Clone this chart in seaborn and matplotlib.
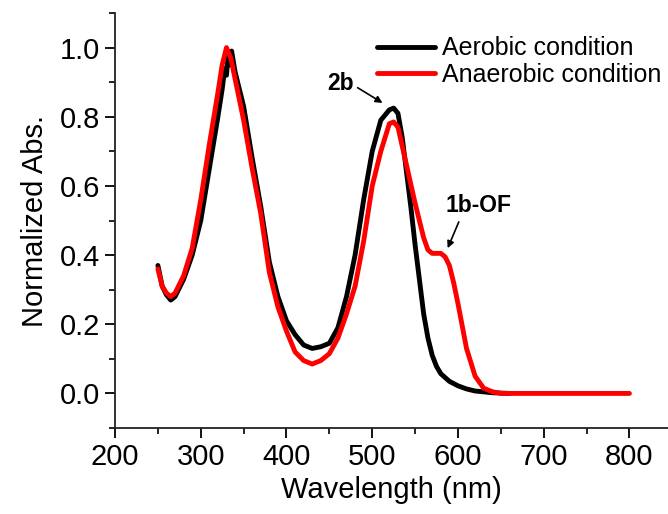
import matplotlib
matplotlib.use("Agg")
import matplotlib.pyplot as plt
import seaborn as sns
import pandas as pd
from matplotlib.ticker import MultipleLocator, FormatStrFormatter

# wavelength (nm) and normalized absorbance
aerobic_wl = [250, 255, 260, 265, 270, 280, 290, 300, 310, 320, 325, 328, 330, 332,
              334, 336, 338, 340, 350, 360, 370, 380, 390, 400, 410, 420, 430, 440,
              450, 460, 470, 480, 490, 500, 510, 520, 525, 530, 535, 540, 545, 550,
              555, 560, 565, 570, 575, 580, 590, 600, 610, 620, 640, 660]
aerobic_abs = [0.37, 0.31, 0.285, 0.27, 0.28, 0.33, 0.40, 0.50, 0.65, 0.80, 0.88, 0.94,
               0.92, 0.98, 0.95, 0.99, 0.96, 0.93, 0.83, 0.68, 0.54, 0.38, 0.28, 0.21,
               0.17, 0.14, 0.13, 0.135, 0.145, 0.19, 0.28, 0.40, 0.56, 0.70, 0.79, 0.82,
               0.825, 0.81, 0.74, 0.64, 0.54, 0.43, 0.33, 0.23, 0.16, 0.11, 0.078, 0.057,
               0.035, 0.022, 0.013, 0.007, 0.002, 0.0]

anaerobic_wl = [250, 255, 260, 265, 270, 280, 290, 300, 310, 320, 325, 330, 335, 340,
                350, 360, 370, 380, 390, 400, 410, 420, 430, 440, 450, 460, 470, 480,
                490, 500, 510, 520, 525, 530, 540, 550, 560, 565, 570, 580, 585, 590,
                595, 600, 610, 620, 630, 640, 650, 700, 750, 800]
anaerobic_abs = [0.36, 0.31, 0.29, 0.28, 0.29, 0.34, 0.42, 0.56, 0.72, 0.87, 0.95, 1.0,
                 0.97, 0.91, 0.79, 0.65, 0.52, 0.35, 0.25, 0.18, 0.12, 0.095, 0.085,
                 0.095, 0.115, 0.16, 0.23, 0.31, 0.44, 0.60, 0.70, 0.78, 0.785, 0.77,
                 0.66, 0.55, 0.45, 0.415, 0.405, 0.405, 0.395, 0.37, 0.32, 0.26, 0.13,
                 0.05, 0.015, 0.005, 0.0, 0.0, 0.0, 0.0]

series_names = ["Aerobic condition", "Anaerobic condition"]
series_colors = ["black", "#ff0000"]

df = pd.concat([
    pd.DataFrame({"wl": aerobic_wl, "abs": aerobic_abs, "cond": series_names[0]}),
    pd.DataFrame({"wl": anaerobic_wl, "abs": anaerobic_abs, "cond": series_names[1]}),
])

sns.set_style("ticks")
plt.rcParams["font.family"] = ["Liberation Sans", "DejaVu Sans"]
for key in ["text.color", "axes.labelcolor", "xtick.color", "ytick.color"]:
    plt.rcParams[key] = "black"

fig = plt.figure(figsize=(6.68, 5.14), dpi=100)
ax = fig.add_axes([0.1722, 0.1673, 0.8278, 0.8074])

sns.lineplot(data=df, x="wl", y="abs", hue="cond", palette=series_colors,
             hue_order=series_names, linewidth=3.5, ax=ax, sort=False,
             solid_joinstyle="round", solid_capstyle="round")

ax.set_xlim(200, 845)
ax.set_ylim(-0.1, 1.1)
ax.xaxis.set_major_locator(MultipleLocator(100))
ax.xaxis.set_minor_locator(MultipleLocator(50))
ax.yaxis.set_major_locator(MultipleLocator(0.2))
ax.yaxis.set_minor_locator(MultipleLocator(0.1))
ax.yaxis.set_major_formatter(FormatStrFormatter("%.1f"))
ax.tick_params(which="major", length=7, width=1.3, labelsize=21, direction="out")
ax.tick_params(which="minor", length=4, width=1.2, direction="out")
for side in ["top", "right"]:
    ax.spines[side].set_visible(False)
for side in ["left", "bottom"]:
    ax.spines[side].set_linewidth(1.3)
    ax.spines[side].set_color("#222222")

ax.set_xlabel("Wavelength (nm)", fontsize=21, labelpad=4)
ax.set_ylabel("Normalized Abs.", fontsize=21, labelpad=8)

leg = ax.legend(loc="upper right", bbox_to_anchor=(1.016, 0.98), frameon=False,
                fontsize=18, handlelength=2.3, handletextpad=0.3,
                labelspacing=0.1, borderaxespad=0.2)
for line in leg.get_lines():
    line.set_linewidth(3.5)

ax.text(463, 0.896, "2b", fontsize=16.5, fontweight="bold", ha="center", va="center")
ax.annotate("", xy=(512, 0.84), xytext=(483, 0.884),
            arrowprops=dict(arrowstyle="-|>", color="black", lw=1.2,
                            mutation_scale=10, shrinkA=0, shrinkB=0))
ax.text(624, 0.542, "1b-OF", fontsize=16.5, fontweight="bold", ha="center", va="center")
ax.annotate("", xy=(588, 0.42), xytext=(601, 0.496),
            arrowprops=dict(arrowstyle="-|>", color="black", lw=1.2,
                            mutation_scale=10, shrinkA=0, shrinkB=0))

fig.savefig("out.png", dpi=100)
